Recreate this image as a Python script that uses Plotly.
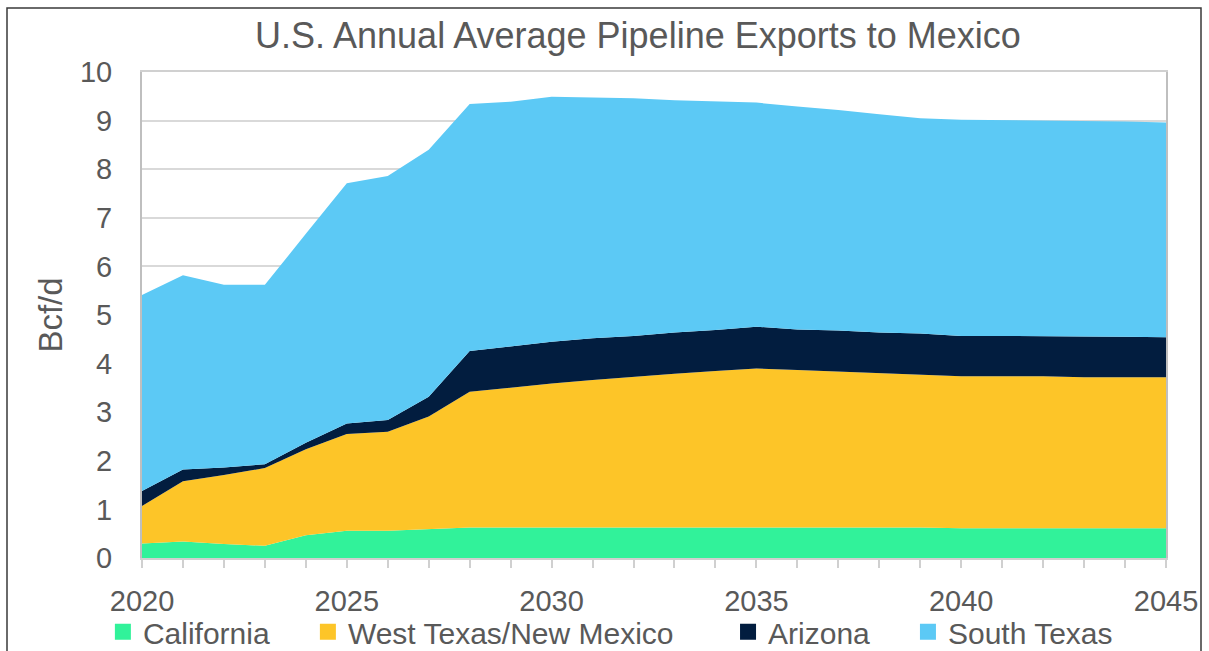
import plotly.graph_objects as go

# Annual average pipeline exports to Mexico by border region (Bcf/d)
years = list(range(2020, 2046))

california = [0.30, 0.34, 0.29, 0.25, 0.47, 0.56, 0.56, 0.60, 0.63, 0.63,
              0.63, 0.63, 0.63, 0.63, 0.63, 0.63, 0.63, 0.63, 0.63, 0.63,
              0.61, 0.61, 0.61, 0.61, 0.61, 0.61]
west_texas_nm = [0.77, 1.24, 1.42, 1.60, 1.77, 1.99, 2.04, 2.31, 2.79, 2.88,
                 2.96, 3.03, 3.10, 3.16, 3.22, 3.27, 3.24, 3.21, 3.17, 3.14,
                 3.13, 3.13, 3.13, 3.11, 3.11, 3.11]
arizona = [0.31, 0.24, 0.15, 0.08, 0.13, 0.22, 0.24, 0.41, 0.84, 0.85,
           0.86, 0.86, 0.84, 0.85, 0.84, 0.86, 0.83, 0.84, 0.84, 0.85,
           0.83, 0.83, 0.83, 0.84, 0.83, 0.82]
south_texas = [4.03, 4.00, 3.76, 3.69, 4.30, 4.94, 5.02, 5.08, 5.08, 5.03,
               5.04, 4.96, 4.89, 4.78, 4.71, 4.61, 4.59, 4.54, 4.49, 4.43,
               4.45, 4.44, 4.43, 4.44, 4.43, 4.42]

series_names = ["California", "West Texas/New Mexico", "Arizona", "South Texas"]
series_values = [california, west_texas_nm, arizona, south_texas]
series_colors = ["#31F29A", "#FDC528", "#021D3F", "#5CC9F5"]

title_text = "U.S. Annual Average Pipeline Exports to Mexico"
y_title = "Bcf/d"

FONT = "Liberation Sans, Arial, sans-serif"
TEXT_GREY = "#595959"

fig = go.Figure()

# stacked areas
for name, vals, col in zip(series_names, series_values, series_colors):
    fig.add_trace(go.Scatter(
        x=years, y=vals, name=name, mode="lines",
        stackgroup="exports", line=dict(width=0, color=col),
        fillcolor=col, showlegend=False, hoverinfo="x+y+name",
    ))

# legend entries: one small square per region, each in its own legend box
legend_ids = ["legend", "legend2", "legend3", "legend4"]
legend_x = [-0.0382, 0.162, 0.5723, 0.748]
for name, col, lid in zip(series_names, series_colors, legend_ids):
    fig.add_trace(go.Scatter(
        x=[None], y=[None], name=name, mode="markers",
        marker=dict(symbol="square", size=16, color=col),
        legend=lid, showlegend=True,
    ))

legend_common = dict(
    orientation="h", yanchor="middle", xanchor="left", y=-0.152,
    bgcolor="rgba(0,0,0,0)", borderwidth=0,
    font=dict(family=FONT, size=30, color=TEXT_GREY),
    itemwidth=30,
)
layout_legends = {}
for lid, lx in zip(legend_ids, legend_x):
    layout_legends[lid] = dict(legend_common, x=lx)

fig.update_layout(
    width=1209, height=651,
    margin=dict(l=142, r=43, t=72, b=93, autoexpand=False),
    paper_bgcolor="white", plot_bgcolor="white",
    font=dict(family=FONT, color=TEXT_GREY),
    showlegend=True,
    **layout_legends,
)

fig.update_xaxes(
    range=[2020, 2045], tickmode="linear", tick0=2020, dtick=5,
    showgrid=False, zeroline=False,
    showline=True, linecolor="#D0D0D0", linewidth=2, mirror=True,
    ticks="outside", ticklen=8, tickwidth=2, tickcolor="#D0D0D0",
    minor=dict(dtick=1, ticks="outside", ticklen=8, tickwidth=2,
               tickcolor="#D0D0D0", showgrid=False),
    tickfont=dict(family=FONT, size=29, color=TEXT_GREY),
    ticklabelstandoff=8,
)

fig.update_yaxes(
    range=[0, 10], tickmode="linear", tick0=0, dtick=1,
    showgrid=True, gridcolor="#D9D9D9", gridwidth=2,
    zeroline=False,
    showline=True, linecolor="#BFBFBF", linewidth=2, mirror=True,
    ticks="", tickfont=dict(family=FONT, size=29, color=TEXT_GREY),
    ticklabelstandoff=22,
    title=dict(text=y_title, font=dict(family=FONT, size=33, color=TEXT_GREY),
               standoff=7),
)

# chart title
fig.add_annotation(
    text=title_text, xref="paper", yref="paper",
    x=(638 - 142) / 1024, y=(558 - 36) / 486,
    xanchor="center", yanchor="middle", showarrow=False,
    font=dict(family=FONT, size=36, color=TEXT_GREY),
)

# outer frame around the whole chart
fig.add_shape(
    type="rect", xref="paper", yref="paper",
    x0=(7 - 142) / 1024, x1=(1201 - 142) / 1024,
    y0=(558 - 700) / 486, y1=(558 - 8) / 486,
    line=dict(color="#3A3A3A", width=1.5), fillcolor="rgba(0,0,0,0)",
    layer="below",
)

fig.write_html("out.html")
